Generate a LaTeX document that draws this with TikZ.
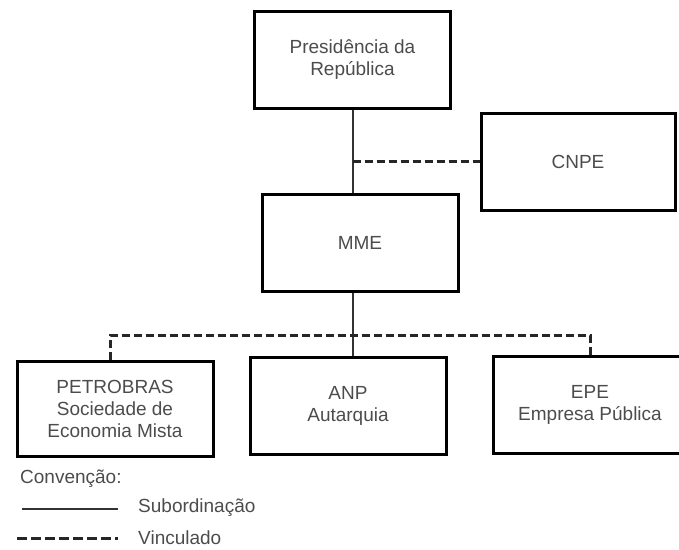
\documentclass[tikz,border=0pt]{standalone}
\usepackage{fontspec}
\setmainfont{Liberation Sans}
\begin{document}
\begin{tikzpicture}[x=1pt,y=-1pt,
        orgbox/.style={draw,line width=3pt,inner sep=0pt,align=center,
            minimum width=196pt,minimum height=97pt,text=black!70,
            font=\fontsize{19}{22}\selectfont},
        sub/.style={line width=2pt,black!80},
        vinc/.style={line width=3pt,black!85,dash pattern=on 8pt off 4pt},
        legtext/.style={anchor=west,inner sep=0pt,text=black!70,
            font=\fontsize{19}{22}\selectfont}]
    \useasboundingbox (0,0) rectangle (679,549);
    %% boxes
    \node[orgbox] (pres) at (352.5,59.5) {Presidência da\\República};
    \node[orgbox,minimum width=194pt] (cnpe) at (578,161.5) {CNPE};
    \node[orgbox] (mme) at (360,243) {MME};
    \node[orgbox,minimum height=95pt] (petro) at (115,408.5)
        {PETROBRAS\\Sociedade de\\Economia Mista};
    \node[orgbox] (anp) at (348,406) {ANP\\Autarquia};
    \node[orgbox,minimum width=194pt] (epe) at (590,405) {EPE\\Empresa Pública};
    %% subordination
    \draw[sub] (pres.south) -- (pres.south |- mme.north);
    \draw[sub] (pres.south |- mme.south) -- (pres.south |- anp.north);
    %% links
    \draw[vinc] (pres.south |- cnpe.west) -- (cnpe.west);
    \coordinate (busl) at (110,335);
    \coordinate (busr) at (590,335);
    \draw[vinc] (busl |- petro.north) -- (busl) -- (busr) -- (busr |- epe.north);
    %% legend
    \node[legtext] (conv) at (20,479) {Convenção:};
    \node[legtext] (lsub) at (138,508) {Subordinação};
    \node[legtext] (lvinc) at (138,538) {Vinculado};
    \coordinate (ls) at (22,509);
    \coordinate (lv) at (17,538);
    \draw[line width=1.5pt,black!80] (ls) -- (ls -| 118,0);
    \draw[vinc,dash pattern=on 10pt off 4pt] (lv) -- (lv -| 118,0);
\end{tikzpicture}
\end{document}
